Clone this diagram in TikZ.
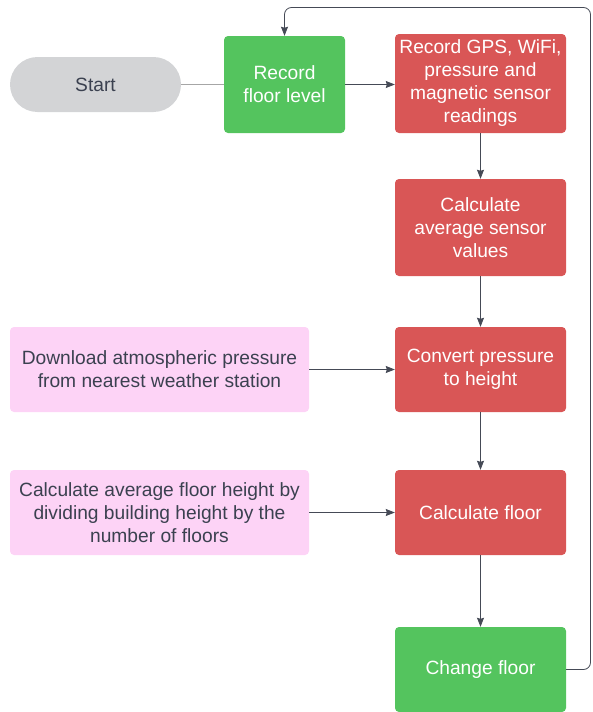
\documentclass[tikz,border=0pt]{standalone}
\usepackage{fontspec}
\setmainfont{Liberation Sans}
\usetikzlibrary{arrows.meta,positioning}
\definecolor{startgray}{HTML}{D3D4D6}
\definecolor{stepgreen}{HTML}{54C45E}
\definecolor{stepred}{HTML}{D95656}
\definecolor{notepink}{HTML}{FDD3F6}
\definecolor{txtgray}{HTML}{3B4150}
\definecolor{wiregray}{HTML}{454A56}

\tikzset{
  basebox/.style={rounded corners=4pt,align=center,inner sep=0pt,
    font=\fontsize{19.2}{23}\selectfont},
  redbox/.style={basebox,fill=stepred,text=white,minimum width=171pt},
  greenbox/.style={basebox,fill=stepgreen,text=white},
  pinkbox/.style={basebox,fill=notepink,text=txtgray,minimum width=299pt,minimum height=85pt},
  wire/.style={draw=wiregray,line width=0.8pt,-{Stealth[inset=1pt,length=9pt,width=7pt]}}
}

\begin{document}
\begin{tikzpicture}[x=1pt,y=-1pt]
\useasboundingbox (0,0) rectangle (592,712);

\node[basebox,fill=startgray,text=txtgray,minimum width=171pt,minimum height=55pt,rounded corners=27.5pt] (start) at (95.5,84.5) {Start};
\node[greenbox,minimum width=121pt,minimum height=97pt] (recfloor) at (284.5,84.5) {Record\\floor level};
\node[redbox,minimum height=99pt] (recsens) at (480.5,83.5) {Record GPS, WiFi,\\pressure and\\magnetic sensor\\readings};
\node[redbox,minimum height=97pt] (avgval) at (480.5,227.5) {Calculate\\average sensor\\values};
\node[redbox,minimum height=85pt] (convp) at (480.5,369.5) {Convert pressure\\to height};
\node[redbox,minimum height=85pt] (calcfl) at (480.5,512.5) {Calculate floor};
\node[greenbox,minimum width=171pt,minimum height=85pt] (chgfl) at (480.5,669.5) {Change floor};

\node[pinkbox] (download) at (159.5,369.5) {Download atmospheric pressure\\from nearest weather station};
\node[pinkbox] (flheight) at (159.5,512.5) {Calculate average floor height by\\dividing building height by the\\number of floors};

\draw[draw=gray!70,line width=0.8pt] (start) -- (recfloor);
\draw[wire] (recfloor.east) -- (recfloor.east -| recsens.west);
\draw[wire] (recsens) -- (avgval);
\draw[wire] (avgval) -- (convp);
\draw[wire] (convp) -- (calcfl);
\draw[wire] (calcfl) -- (chgfl);
\draw[wire] (download) -- (convp);
\draw[wire] (flheight) -- (calcfl);
% loop back to the top
\coordinate (loopbr) at (590.5,669.5);
\coordinate (looptr) at (590.5,7.5);
\draw[wire,rounded corners=7pt] (chgfl.east) -- (loopbr) -- (looptr) -- (looptr -| recfloor) -- (recfloor.north);
\end{tikzpicture}
\end{document}
